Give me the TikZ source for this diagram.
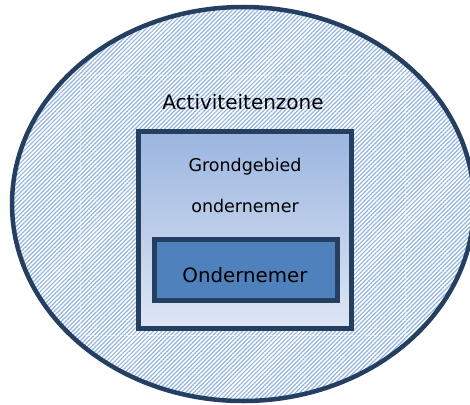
\documentclass[tikz,border=0pt]{standalone}
\usepackage{fontspec}
\setmainfont{DejaVu Sans}
\usetikzlibrary{patterns.meta,shapes.geometric}
\definecolor{navy}{HTML}{243F60}
\definecolor{hatch}{HTML}{94B4DF}
\definecolor{topfill}{HTML}{9BB5E0}
\definecolor{botfill}{HTML}{DEE6F4}
\definecolor{midblue}{HTML}{4F81BD}
\tikzset{
  zone/.style={draw=navy, line width=4.5pt,
    pattern={Lines[angle=45,distance=3pt,line width=1.2pt]}, pattern color=hatch},
  areabox/.style={draw=navy, line width=5pt, top color=topfill, bottom color=botfill},
  corebox/.style={draw=navy, line width=5pt, fill=midblue},
  lbl/.style={text=black, inner sep=0pt}
}
\begin{document}
\begin{tikzpicture}[x=1pt,y=-1pt]
\useasboundingbox (0,0) rectangle (470,404);
\node[zone, ellipse, minimum width=462pt, minimum height=394pt, inner sep=0pt] (zone) at (243,204) {};
\draw[white, opacity=0.5, densely dotted, line width=0.4pt] (80,75) rectangle (405,335);
\node[lbl, font=\fontsize{20}{22}\selectfont] (zonelbl) at (243,102) {Activiteitenzone};
\node[areabox, minimum width=213pt, minimum height=197pt, inner sep=0pt] (area) at (244.5,229.5) {};
\node[lbl, font=\fontsize{17.5}{19}\selectfont] (arealbl1) at (245,167) {Grondgebied};
\node[lbl, font=\fontsize{17.5}{19}\selectfont] (arealbl2) at (245,206) {ondernemer};
\node[corebox, minimum width=183pt, minimum height=61pt, inner sep=0pt] (core) at (245.5,269.5) {};
\node[lbl, font=\fontsize{19.8}{22}\selectfont] (corelbl) at (245,275) {Ondernemer};
\end{tikzpicture}
\end{document}
